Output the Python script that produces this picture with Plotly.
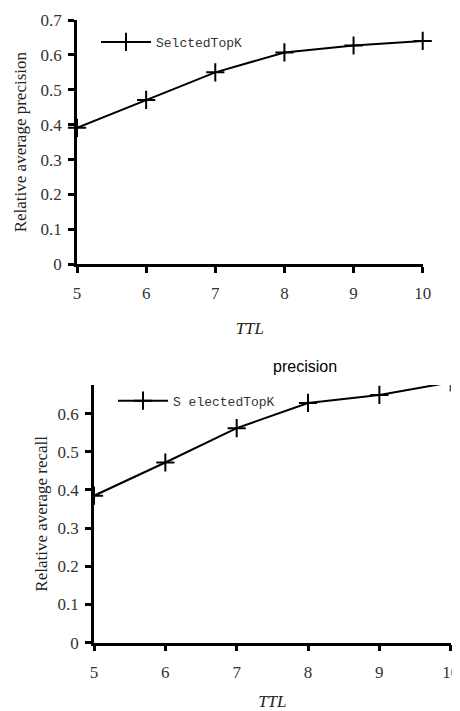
import plotly.graph_objects as go

ttl = [5, 6, 7, 8, 9, 10]
precision_vals = [0.391, 0.471, 0.550, 0.607, 0.627, 0.640]
recall_vals = [0.385, 0.472, 0.562, 0.628, 0.649, 0.682]
prec_ticks = [0, 0.1, 0.2, 0.3, 0.4, 0.5, 0.6, 0.7]
prec_ticktext = ["0", "0.1", "0.2", "0.3", "0.4", "0.5", "0.6", "0.7"]
rec_ticks = [0, 0.1, 0.2, 0.3, 0.4, 0.5, 0.6]
rec_ticktext = ["0", "0.1", "0.2", "0.3", "0.4", "0.5", "0.6"]
x_ticktext = ["5", "6", "7", "8", "9", "10"]

SERIF = "Liberation Serif"
MONO = "Liberation Mono"
# the page body adds an 8px margin, so the figure is 8px smaller than the window
OFF = 8
W, H = 460 - OFF, 711 - OFF


def px(x):
    return (x - OFF) / W


def py(y):
    return 1 - (y - OFF) / H


fig = go.Figure()

marker = dict(symbol="cross-thin", size=13, color="black", line=dict(width=2, color="black"))

fig.add_trace(go.Scatter(
    x=ttl, y=precision_vals, mode="lines+markers", name="SelctedTopK",
    line=dict(color="black", width=2), marker=marker, showlegend=True,
    xaxis="x", yaxis="y", legend="legend", cliponaxis=False,
))
fig.add_trace(go.Scatter(
    x=ttl, y=recall_vals, mode="lines+markers", name="S electedTopK",
    line=dict(color="black", width=2), marker=marker, showlegend=True,
    xaxis="x2", yaxis="y2", legend="legend2", cliponaxis=True,
))

top_x = [px(77), px(422.7)]
top_y = [py(264.3), py(20)]
bot_x = [px(94), px(450.7)]
bot_y = [py(642.7), py(385)]

tickfont = dict(family=SERIF, size=17, color="#333")


def xax(domain, anchor, labels=True, ticks="outside", overlaying=None):
    d = dict(domain=domain, anchor=anchor, range=[5, 10], tickvals=ttl, ticktext=x_ticktext,
             ticks=ticks, ticklen=6, tickwidth=2.5, tickcolor="black", automargin=False,
             showline=True, linewidth=2.5, linecolor="black", showgrid=False, zeroline=False,
             showticklabels=labels, tickfont=tickfont, ticklabelstandoff=6)
    if overlaying:
        d["overlaying"] = overlaying
    return d


def yax(domain, anchor, rng, tv, tt, labels=True, ticks="outside", overlaying=None):
    d = dict(domain=domain, anchor=anchor, range=rng, tickvals=tv, ticktext=tt,
             ticks=ticks, ticklen=6, tickwidth=2.5, tickcolor="black", automargin=False,
             showline=True, linewidth=2.5, linecolor="black", showgrid=False, zeroline=False,
             showticklabels=labels, tickfont=tickfont, ticklabelstandoff=3)
    if overlaying:
        d["overlaying"] = overlaying
    return d


titlefont = dict(family=SERIF, size=17, color="#222")

xa1 = xax(top_x, "y")
xa1["title"] = dict(text="<i>TTL</i>", font=titlefont, standoff=20)
ya1 = yax(top_y, "x", [0, 0.7], prec_ticks, prec_ticktext)
ya1["title"] = dict(text="Relative average precision", font=titlefont, standoff=10)

xa2 = xax(bot_x, "y2")
xa2["title"] = dict(text="<i>TTL</i>", font=titlefont, standoff=20)
ya2 = yax(bot_y, "x2", [0, 0.675], rec_ticks, rec_ticktext)
ya2["title"] = dict(text="Relative average recall", font=titlefont, standoff=6)

fig.update_layout(
    width=W, height=H, margin=dict(l=0, r=0, t=0, b=0),
    paper_bgcolor="white", plot_bgcolor="white", showlegend=True,
    xaxis=xa1, yaxis=ya1, xaxis2=xa2, yaxis2=ya2,
    xaxis3=xax(top_x, "y3", labels=False, ticks="inside", overlaying="x"),
    yaxis3=yax(top_y, "x3", [0, 0.7], prec_ticks, prec_ticktext, labels=False, ticks="inside", overlaying="y"),
    xaxis4=xax(bot_x, "y4", labels=False, ticks="inside", overlaying="x2"),
    yaxis4=yax(bot_y, "x4", [0, 0.675], rec_ticks, rec_ticktext, labels=False, ticks="inside", overlaying="y2"),
    legend=dict(x=px(96), y=py(42), xanchor="left", yanchor="middle",
                bgcolor="rgba(0,0,0,0)", font=dict(family=MONO, size=13, color="#333"),
                itemwidth=50, tracegroupgap=0),
    legend2=dict(x=px(113), y=py(400.7), xanchor="left", yanchor="middle",
                 bgcolor="rgba(0,0,0,0)", font=dict(family=MONO, size=13, color="#333"),
                 itemwidth=50, tracegroupgap=0),
    annotations=[dict(text="precision", x=px(305), y=py(366.5), xref="paper", yref="paper",
                      showarrow=False, xanchor="center", yanchor="middle",
                      font=dict(family="Liberation Sans", size=16, color="black"))],
)

fig.write_html("out.html")
